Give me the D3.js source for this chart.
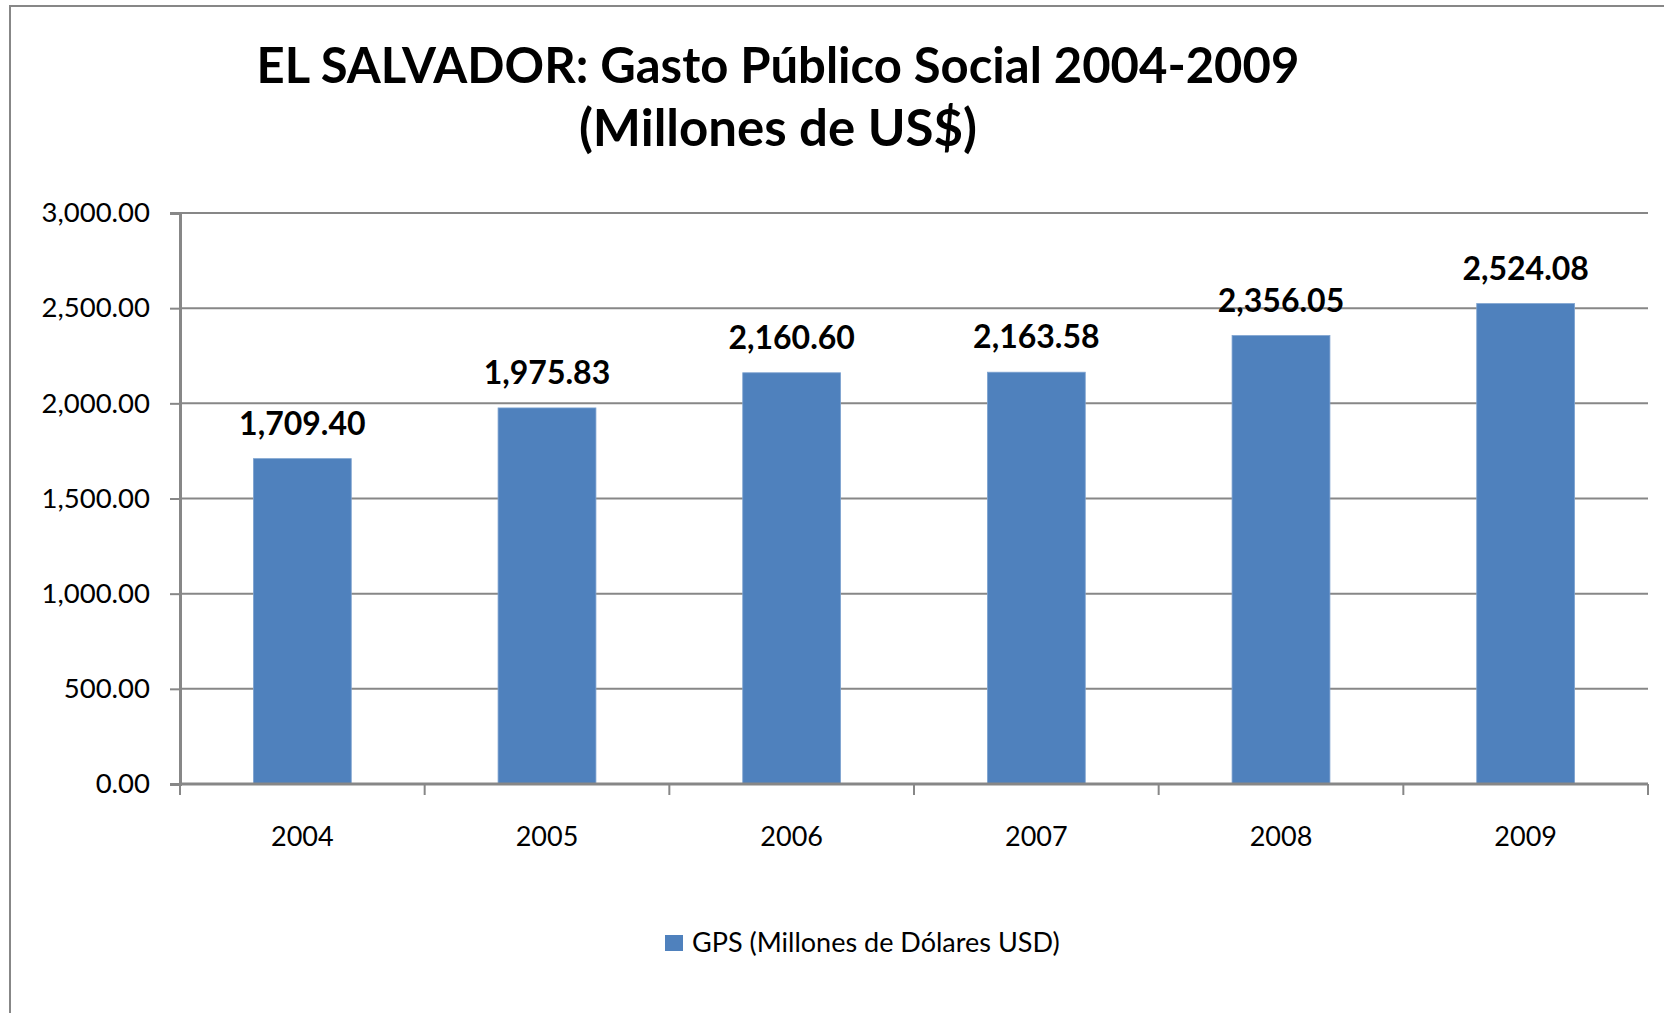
<!DOCTYPE html>
<html>
<head>
<meta charset="utf-8">
<script src="https://cdn.jsdelivr.net/npm/d3@7"></script>
<style>
  body { margin: 0; background: #fff; }
  text { font-family: Lato, "Open Sans", sans-serif; fill: #000; }
</style>
</head>
<body>
<svg width="1664" height="1013"></svg>
<script>
// chart data
const years = ["2004", "2005", "2006", "2007", "2008", "2009"];
const gps = [1709.40, 1975.83, 2160.60, 2163.58, 2356.05, 2524.08];
const yTicks = [0, 500, 1000, 1500, 2000, 2500, 3000];
const titleLines = ["EL SALVADOR: Gasto Público Social 2004-2009", "(Millones de US$)"];
const legendLabel = "GPS (Millones de Dólares USD)";

let svg = d3.select("svg"),
  margin = { top: 213, right: 16, bottom: 229, left: 180 },
  width = +svg.attr("width") - margin.left - margin.right,
  height = +svg.attr("height") - margin.top - margin.bottom;

const grey = "#878787", barColor = "#4F81BD";

// outer frame of the chart area (top and left edges visible)
svg.append("rect")
  .attr("x", 10).attr("y", 6)
  .attr("width", 1700).attr("height", 1100)
  .attr("fill", "none")
  .attr("stroke", grey)
  .attr("stroke-width", 2);

// title
svg.append("g").selectAll("text")
  .data(titleLines)
  .enter().append("text")
  .attr("x", 778)
  .attr("y", (d, i) => 83 + i * 63)
  .attr("text-anchor", "middle")
  .style("font-size", (d, i) => i === 0 ? "49px" : "51px")
  .style("font-weight", "bold")
  .text(d => d);

let x = d3.scaleBand().domain(years).range([0, width]).paddingInner(0.6).paddingOuter(0.3),
  y = d3.scaleLinear().domain([0, 3000]).range([height, 0]);

let g = svg.append("g")
  .attr("transform", "translate(" + margin.left + "," + margin.top + ")");

// horizontal gridlines
g.append("g").selectAll("line")
  .data(yTicks.filter(d => d > 0))
  .enter().append("line")
  .attr("x1", 0).attr("x2", width)
  .attr("y1", d => y(d)).attr("y2", d => y(d))
  .attr("stroke", grey).attr("stroke-width", 2);

// y axis
let yAxis = g.append("g")
  .call(d3.axisLeft(y).tickValues(yTicks).tickSize(10).tickPadding(20)
    .tickFormat(d3.format(",.2f")));
yAxis.select(".domain").attr("stroke", grey).attr("stroke-width", 3);
yAxis.selectAll(".tick line").attr("stroke", grey).attr("stroke-width", 2);
yAxis.selectAll(".tick text").style("font-size", "27.5px").attr("fill", "#000");

// bars
g.selectAll(".bar")
  .data(years)
  .enter().append("rect")
  .attr("class", "bar")
  .attr("x", d => x(d))
  .attr("y", (d, i) => y(gps[i]))
  .attr("width", x.bandwidth())
  .attr("height", (d, i) => height - y(gps[i]))
  .attr("fill", barColor)
  .attr("stroke", "#7ea3d0")
  .attr("stroke-width", 0.8);

// value labels
g.selectAll(".val")
  .data(years)
  .enter().append("text")
  .attr("class", "val")
  .attr("x", d => x(d) + x.bandwidth() / 2)
  .attr("y", (d, i) => y(gps[i]) - 24)
  .attr("text-anchor", "middle")
  .style("font-size", "32px")
  .style("font-weight", "bold")
  .text((d, i) => d3.format(",.2f")(gps[i]));

// x axis with ticks between categories
let xAxis = g.append("g").attr("transform", "translate(0," + height + ")");
xAxis.append("line")
  .attr("x1", 0).attr("x2", width)
  .attr("stroke", grey).attr("stroke-width", 3);
xAxis.selectAll(".xtick")
  .data(d3.range(years.length + 1))
  .enter().append("line")
  .attr("x1", i => i * x.step()).attr("x2", i => i * x.step())
  .attr("y1", 0).attr("y2", 11)
  .attr("stroke", grey).attr("stroke-width", 2);
xAxis.selectAll(".xlab")
  .data(years)
  .enter().append("text")
  .attr("x", d => x(d) + x.bandwidth() / 2)
  .attr("y", 62)
  .attr("text-anchor", "middle")
  .style("font-size", "27px")
  .text(d => d);

// legend
let legend = svg.append("g").attr("transform", "translate(665,935)");
legend.append("rect")
  .attr("width", 18).attr("height", 16)
  .attr("fill", barColor);
legend.append("text")
  .attr("x", 27).attr("y", 17)
  .style("font-size", "27px")
  .text(legendLabel);
</script>
</body>
</html>
